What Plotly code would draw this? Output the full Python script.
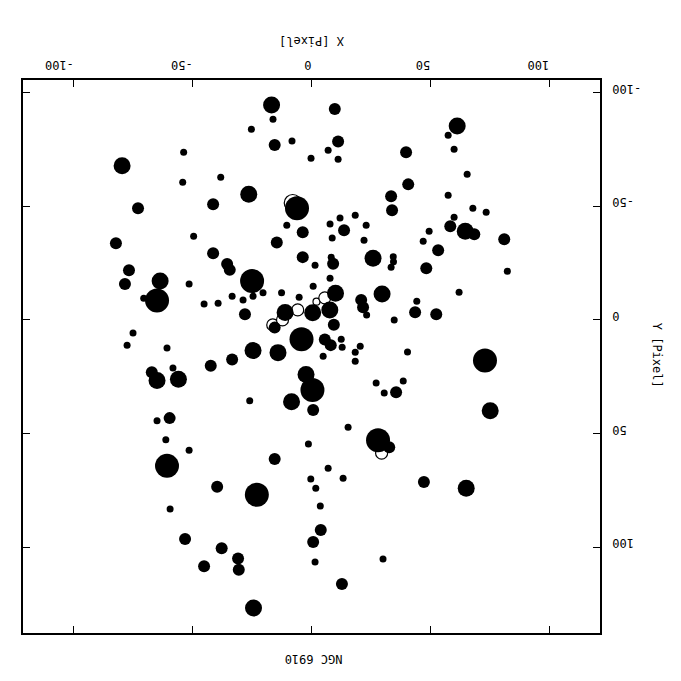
import plotly.graph_objects as go

# Filled stars: X [Pixel], Y [Pixel], brightness class (1 faint .. 4 bright)
star_x = [-16.8, -16.2, -25.3, -15.5, -8.2, -0.2, -79.7, -53.8, -54.2, -38.2,
          -26.4, -41.4, -73.0, -6.1, -10.4, -3.7, -49.6, -82.3, -14.6, -41.4,
          -3.7, 1.5, -35.5, -34.4, -76.8, -25.0, -63.7, -78.5, -51.5, 0.7,
          -65.0, -70.6, -45.2, -39.3, -33.4, -28.8, -24.6, -20.4, -12.6, -5.2,
          -28.0, -11.1, 0.5, 7.7, -15.5, -4.2, -75.1, -77.6, -60.8, -24.6,
          -14.1, -33.4, -42.4, -67.2, -65.0, -58.3, -56.0, -2.3, 0.4, -26.0,
          -8.4, 0.7, -59.7, -65.0, -61.3, -51.5, -1.3, -60.8, -15.5, -39.7,
          -23.0, -0.3, 1.8, 3.7, -59.5, 3.9, 0.7, 1.5, -53.2, -37.8,
          -45.2, -30.9, -30.6, -24.4, 73.0, 75.2, 27.2, 30.6, 35.6, 38.6,
          15.4, 28.0, 32.7, 7.0, 13.3, 47.3, 65.1, 30.1, 12.8, 9.8,
          61.3, 57.5, 60.0, 11.2, 7.0, 11.2, 39.8, 65.5, 40.7, 33.5,
          33.9, 57.5, 67.9, 73.5, 12.0, 18.4, 7.8, 23.0, 13.7, 8.7,
          22.1, 60.0, 58.4, 64.7, 68.5, 81.1, 49.5, 47.0, 53.3, 25.9,
          34.4, 34.5, 33.5, 8.3, 9.1, 48.3, 82.4, 7.8, 10.1, 29.7,
          62.1, 20.9, 21.7, 23.2, 44.3, 43.6, 52.5, 34.8, 9.4, 5.6,
          8.1, 12.5, 12.9, 18.4, 20.5, 4.9, 40.4, 18.4]
star_y = [-94.5, -88.2, -83.8, -76.9, -78.7, -71.1, -67.8, -73.7, -60.5, -62.7,
          -55.3, -50.9, -49.1, -49.1, -41.6, -38.5, -36.8, -33.7, -34.0, -29.3,
          -27.6, -24.0, -24.6, -22.0, -21.8, -17.1, -17.1, -15.8, -15.8, -14.8,
          -8.5, -9.5, -7.0, -7.3, -10.4, -8.8, -10.4, -11.9, -11.9, -10.0,
          -2.5, -3.3, -3.1, -4.4, 3.4, 8.5, 5.8, 11.1, 12.4, 13.5,
          14.4, 17.4, 20.2, 23.0, 26.7, 21.2, 26.1, 24.0, 30.8, 35.6,
          36.0, 39.6, 43.2, 44.4, 52.7, 57.3, 54.6, 64.2, 61.2, 73.4,
          76.9, 70.0, 74.0, 81.9, 83.2, 92.4, 97.7, 106.5, 96.4, 100.4,
          108.3, 104.9, 109.9, 126.7, 17.9, 40.0, 27.8, 32.2, 31.8, 26.9,
          47.2, 52.9, 56.0, 65.2, 69.6, 71.3, 74.0, 105.2, 116.2, -92.7,
          -85.3, -81.2, -75.0, -78.5, -74.6, -70.6, -73.7, -64.0, -59.6, -54.4,
          -48.2, -54.8, -49.1, -47.3, -44.8, -46.0, -42.2, -41.6, -39.4, -36.0,
          -35.0, -45.1, -41.2, -39.0, -37.7, -35.5, -39.0, -34.6, -30.6, -27.1,
          -27.8, -25.6, -23.2, -27.6, -24.7, -22.7, -21.4, -18.3, -11.7, -11.4,
          -12.2, -8.8, -5.6, -2.1, -8.2, -3.4, -2.5, 0.1, 2.1, 8.6,
          11.1, 8.5, 12.0, 14.2, 11.6, 16.0, 14.1, 18.2]
star_b = [3, 1, 1, 2, 1, 1, 3, 1, 1, 1,
          3, 2, 2, 4, 1, 2, 1, 2, 2, 2,
          2, 1, 2, 2, 2, 4, 3, 2, 1, 1,
          4, 1, 1, 1, 1, 1, 1, 1, 1, 1,
          2, 3, 3, 3, 2, 4, 1, 1, 1, 3,
          3, 2, 2, 2, 3, 1, 3, 3, 4, 1,
          3, 2, 2, 1, 1, 1, 1, 4, 2, 2,
          4, 1, 1, 1, 1, 2, 2, 1, 2, 2,
          2, 2, 2, 3, 4, 3, 1, 1, 2, 1,
          1, 4, 2, 1, 1, 2, 3, 1, 2, 2,
          3, 1, 1, 2, 1, 1, 2, 1, 2, 2,
          2, 1, 1, 1, 1, 1, 1, 1, 2, 1,
          1, 1, 2, 3, 2, 2, 1, 1, 2, 3,
          1, 1, 1, 1, 2, 2, 1, 1, 3, 3,
          1, 2, 2, 1, 1, 2, 2, 1, 2, 2,
          2, 1, 1, 1, 1, 1, 1, 1]

# Open (unfilled) stars
open_x = [-7.9, -5.8, 2.1, 5.6, -16.3, -12.2, 29.5]
open_y = [-51.4, -4.4, -8.0, -9.7, 2.2, 0.0, 58.6]
open_b = [3, 2, 1, 2, 2, 2, 2]

x_ticks = [-100, -50, 0, 50, 100]
y_ticks = [-100, -50, 0, 50, 100]
x_title = "X [Pixel]"
y_title = "Y [Pixel]"
caption = "NGC 6910"

diam = {1: 7, 2: 12, 3: 17, 4: 24}
FONT = "DejaVu Sans Mono"
FS = 12
NBSP = "\u00a0"

fig = go.Figure()
fig.add_trace(go.Scatter(
    x=open_x, y=open_y, mode="markers",
    marker=dict(size=[diam[b] for b in open_b], color="white", opacity=1,
                line=dict(color="black", width=1.2)),
    hoverinfo="skip", showlegend=False))
fig.add_trace(go.Scatter(
    x=star_x, y=star_y, mode="markers",
    marker=dict(size=[diam[b] for b in star_b], color="black", opacity=1,
                line=dict(width=0)),
    showlegend=False))

axis_common = dict(
    showgrid=False, zeroline=False, showline=True, linecolor="black",
    linewidth=1.5, mirror="ticks", ticks="inside", ticklen=7,
    tickwidth=1, tickcolor="black", tickangle=180, automargin=False,
    tickfont=dict(family=FONT, size=FS, color="black"),
)
fig.update_layout(
    width=681, height=681,
    margin=dict(l=15, r=89, t=72, b=56),
    paper_bgcolor="white", plot_bgcolor="white",
    xaxis=dict(range=[-121.4, 121.4], side="top", tickvals=x_ticks,
               ticktext=[str(v) for v in x_ticks], ticklabelstandoff=0,
               **axis_common),
    yaxis=dict(range=[137.7, -105.5], side="right", tickvals=y_ticks,
               ticktext=[str(v).rjust(4, NBSP) for v in y_ticks],
               ticklabelstandoff=37, **axis_common),
    annotations=[
        dict(text=x_title, xref="paper", yref="paper", x=0.5, y=1.0705,
             xanchor="center", yanchor="middle",
             showarrow=False, textangle=180,
             font=dict(family=FONT, size=FS, color="black")),
        dict(text=y_title, xref="paper", yref="paper", x=1.099, y=0.503,
             xanchor="center", yanchor="middle",
             showarrow=False, textangle=90,
             font=dict(family=FONT, size=FS, color="black")),
        dict(text=caption, xref="paper", yref="paper", x=0.503, y=-0.047,
             xanchor="center", yanchor="middle",
             showarrow=False, textangle=180,
             font=dict(family=FONT, size=FS, color="black")),
    ],
)
fig.write_html("out.html")
